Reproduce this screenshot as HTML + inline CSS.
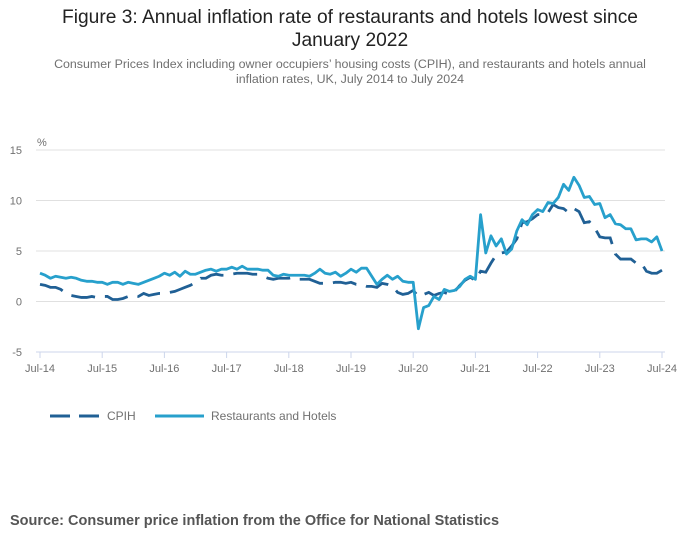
<!DOCTYPE html>
<html><head><meta charset="utf-8"><style>
body{margin:0;background:#fff;font-family:"Liberation Sans",sans-serif;}
#wrap{position:relative;width:700px;height:549px;overflow:hidden}
.t{position:absolute;left:0;width:700px;text-align:center}
</style></head><body>
<div id="wrap">
<div class="t" style="top:6px;font-size:19.2px;line-height:23px;color:#222">Figure 3: Annual inflation rate of restaurants and hotels lowest since<br>January 2022</div>
<div class="t" style="top:57px;font-size:12.4px;line-height:15px;color:#707070">Consumer Prices Index including owner occupiers’ housing costs (CPIH), and restaurants and hotels annual<br>inflation rates, UK, July 2014 to July 2024</div>
<svg id="chart" width="700" height="549" style="position:absolute;left:0;top:0"></svg>
<div style="position:absolute;left:10px;top:513px;font-size:14.5px;font-weight:bold;color:#555">Source: Consumer price inflation from the Office for National Statistics</div>
</div>
<script>
const yTicks=[15,10,5,0,-5];
const xTickLabels=["Jul-14","Jul-15","Jul-16","Jul-17","Jul-18","Jul-19","Jul-20","Jul-21","Jul-22","Jul-23","Jul-24"];
const cpih=[1.7,1.6,1.4,1.4,1.2,0.8,
0.6,0.5,0.4,0.4,0.5,0.4,0.5,0.5,0.2,0.2,0.3,0.5,
0.6,0.5,0.8,0.6,0.7,0.8,0.8,0.9,1.0,1.2,1.4,1.6,
1.9,2.3,2.3,2.6,2.7,2.6,2.6,2.7,2.8,2.8,2.8,2.7,
2.7,2.5,2.3,2.2,2.3,2.3,2.3,2.4,2.2,2.2,2.2,2.0,
1.8,1.8,1.8,1.9,1.9,1.8,1.9,1.7,1.7,1.5,1.5,1.4,
1.8,1.7,1.5,0.9,0.7,0.8,1.1,0.5,0.7,0.9,0.6,0.8,
0.9,0.7,1.0,1.6,2.1,2.4,2.1,3.0,2.9,3.8,4.6,4.8,
4.9,5.5,6.2,7.8,7.9,8.2,8.6,8.6,8.8,9.6,9.3,9.2,
8.8,9.2,8.9,7.8,7.9,7.3,6.4,6.3,6.3,4.7,4.2,4.2,
4.2,3.8,3.8,3.0,2.8,2.8,3.1];
const restHotels=[2.8,2.6,2.3,2.5,2.4,2.3,
2.4,2.3,2.1,2.0,2.0,1.9,1.9,1.7,1.9,1.9,1.7,1.9,
1.8,1.7,1.9,2.1,2.3,2.5,2.8,2.6,2.9,2.5,3.0,2.7,
2.7,2.9,3.1,3.2,3.0,3.2,3.2,3.4,3.2,3.5,3.2,3.2,
3.2,3.1,3.1,2.6,2.5,2.7,2.6,2.6,2.6,2.6,2.5,2.8,
3.2,2.8,2.7,2.9,2.5,2.8,3.2,2.9,3.3,3.3,2.5,1.7,
2.2,2.6,2.2,2.5,2.0,1.9,1.9,-2.7,-0.6,-0.4,0.5,0.2,
1.2,1.0,1.1,1.5,2.2,2.5,2.2,8.6,4.8,6.5,5.5,6.2,
4.7,5.2,7.0,8.1,7.6,8.6,9.1,8.9,9.8,9.7,10.3,11.6,
11.0,12.3,11.5,10.3,10.4,9.6,9.7,8.3,8.6,7.7,7.6,7.2,
7.2,6.1,6.2,6.2,5.9,6.4,5.0];
const svg=document.getElementById('chart');const NS='http://www.w3.org/2000/svg';
const x0=40,x1=662,yTop=150,yBot=352;
const xs=i=>x0+(x1-x0)*i/120;
const ys=v=>yBot-(v+5)*(yBot-yTop)/20;
function mk(t,a){const e=document.createElementNS(NS,t);for(const k in a)e.setAttribute(k,a[k]);svg.appendChild(e);return e;}
yTicks.forEach(v=>{
 const l=mk('line',{x1:x0-4,x2:665,y1:ys(v),y2:ys(v),stroke:v===-5?'#ccd6eb':'#e0e0e0','stroke-width':1});
 
 
 const t=mk('text',{x:22,y:ys(v)+4,'text-anchor':'end','font-size':11,fill:'#707070','font-family':'Liberation Sans'});
 t.textContent=v;
 
 
});
const pct=mk('text',{x:37,y:146,'font-size':11,fill:'#707070','font-family':'Liberation Sans'});pct.textContent='%';


xTickLabels.forEach((s,k)=>{
 const x=xs(k*12);
 const l=mk('line',{x1:x,x2:x,y1:yBot,y2:yBot+6,stroke:'#ccd6eb'});
 
 
 const t=mk('text',{x:x,y:yBot+20,'text-anchor':'middle','font-size':11,fill:'#707070','font-family':'Liberation Sans'});
 t.textContent=s;
 
 
});
function path(d){return d.map((v,i)=>(i?'L':'M')+xs(i).toFixed(2)+','+ys(v).toFixed(2)).join('');}
const p1=mk('path',{d:path(cpih),fill:'none',stroke:'#206095','stroke-width':2.8,'stroke-dasharray':'24,10'});


const p2=mk('path',{d:path(restHotels),fill:'none',stroke:'#27a0cc','stroke-width':2.8,'stroke-linejoin':'round'});


const g1=mk('line',{x1:50,x2:100,y1:416,y2:416,stroke:'#206095','stroke-width':3,'stroke-dasharray':'20,9'});


const t1=mk('text',{x:107,y:420,'font-size':12,fill:'#707070','font-family':'Liberation Sans'});t1.textContent='CPIH';


const g2=mk('line',{x1:155,x2:204,y1:416,y2:416,stroke:'#27a0cc','stroke-width':3});


const t2=mk('text',{x:211,y:420,'font-size':12,fill:'#707070','font-family':'Liberation Sans'});t2.textContent='Restaurants and Hotels';


</script>
</body></html>
